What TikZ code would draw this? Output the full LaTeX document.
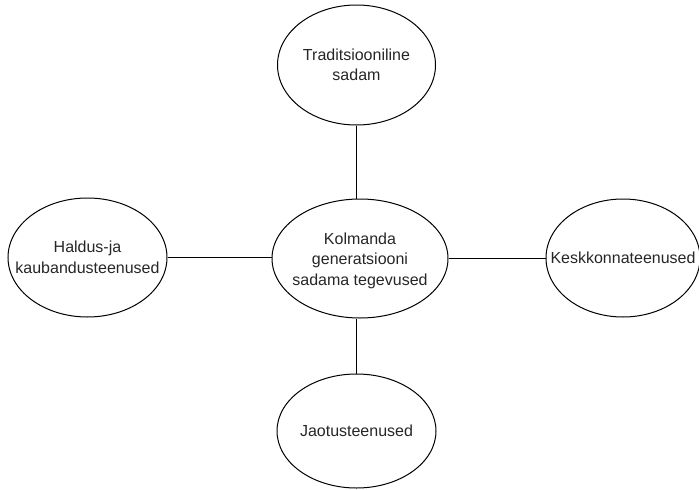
\documentclass[tikz,border=0pt]{standalone}
\usepackage{fontspec}
\setmainfont{Liberation Sans}
\usetikzlibrary{shapes.geometric}

\tikzset{
  teenus/.style={draw, ellipse, line width=1pt, inner sep=0pt},
  tekst/.style={align=center, inner sep=0pt, text=black!85,
    font=\fontsize{16}{20.5}\selectfont},
  seos/.style={line width=1pt}
}

\begin{document}
\begin{tikzpicture}[x=1pt, y=-1pt]
    \useasboundingbox (0,0) rectangle (699,490);

    % Ellipses
    \node[teenus, minimum width=176, minimum height=119] (kolm) at (360,258.5) {};
    \node[teenus, minimum width=158, minimum height=120] (trad) at (356.5,65) {};
    \node[teenus, minimum width=159, minimum height=119] (haldus) at (87.5,257.5) {};
    \node[teenus, minimum width=154, minimum height=118] (kesk) at (623,258) {};
    \node[teenus, minimum width=159, minimum height=114] (jaot) at (356.5,431) {};

    % Texts
    \node[tekst] (kolmtekst) at ([yshift=-2]kolm.center) {Kolmanda\\generatsiooni\\sadama tegevused};
    \node[tekst] (tradtekst) at (trad.center) {Traditsiooniline\\sadam};
    \node[tekst] (haldustekst) at (haldus.center) {Haldus-ja\\kaubandusteenused};
    \node[tekst] (kesktekst) at (kesk.center) {Keskkonnateenused};
    \node[tekst] (jaottekst) at (jaot.center) {Jaotusteenused};

    % Connectors
    \draw[seos] (trad.south) -- (trad.south |- kolm.north);
    \draw[seos] (kolm.south -| jaot.north) -- (jaot.north);
    \draw[seos] (haldus.east) -- (haldus.east -| kolm.west);
    \draw[seos] (kolm.east) -- (kolm.east -| kesk.west);
\end{tikzpicture}
\end{document}
